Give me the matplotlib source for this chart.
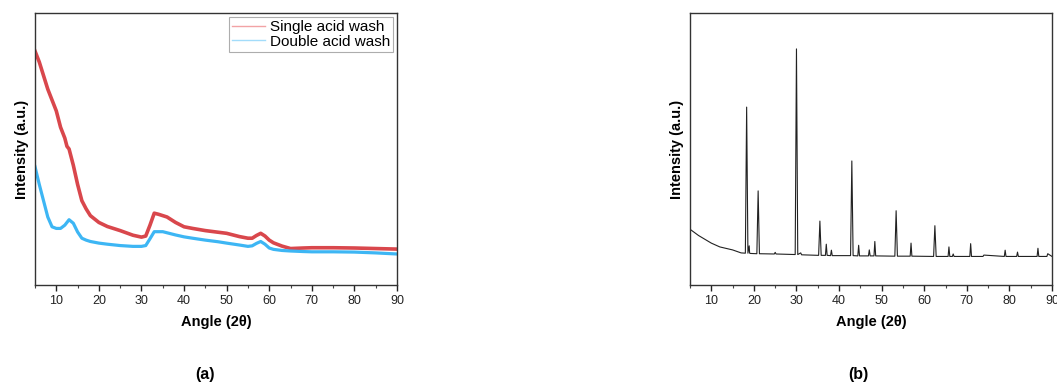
import matplotlib
matplotlib.use("Agg")
import matplotlib.pyplot as plt
from matplotlib.lines import Line2D
from matplotlib.ticker import MultipleLocator

# ---------------- data (a) ----------------
angle_a = [5, 6, 7, 8, 9, 10, 11, 12, 12.5, 13, 14, 15, 16, 17, 18, 20, 22, 25, 28, 30, 31,
           32, 33, 34, 35, 36, 38, 40, 42, 45, 48, 50, 53, 55, 56, 57, 58, 59, 60, 61, 63,
           65, 68, 70, 75, 80, 85, 90]
single_wash = [86, 82, 77, 72, 68, 64, 58, 54, 51, 50, 44, 37, 31, 28, 25.5, 23, 21.5, 20, 18.3, 17.6, 18,
               22, 26.4, 26, 25.5, 25, 23, 21.4, 20.8, 20, 19.4, 19, 17.8, 17.2, 17.2, 18.2, 19, 18, 16.5, 15.5, 14.3,
               13.4, 13.6, 13.7, 13.7, 13.6, 13.4, 13.2]
double_wash = [43.5, 37, 31, 25, 21.4, 20.8, 20.8, 22, 23, 24, 22.7, 19.5, 17.2, 16.5, 16, 15.4, 15, 14.5, 14.2, 14.2, 14.5,
               17, 19.6, 19.6, 19.6, 19.2, 18.4, 17.7, 17.2, 16.5, 15.9, 15.4, 14.7, 14.2, 14.4, 15.3, 16, 15, 13.6, 13.1, 12.7,
               12.5, 12.3, 12.2, 12.2, 12.1, 11.8, 11.4]

# ---------------- data (b) ----------------
angle_b = [5, 7, 10, 12, 15, 17, 18.0, 18.3, 18.6, 18.9, 19.0, 19.2, 20.7, 21.0, 21.3, 24.8, 25.0, 25.2,
           29.7, 30.0, 30.3, 31.0, 31.2, 35.2, 35.5, 35.8, 36.8, 37.0, 37.2, 38.0, 38.2, 38.4,
           42.7, 43.0, 43.3, 44.4, 44.6, 44.8, 46.9, 47.1, 47.3, 48.2, 48.4, 48.6,
           53.1, 53.4, 53.7, 56.7, 56.9, 57.1, 62.2, 62.5, 62.8, 65.6, 65.8, 66.0, 66.6, 66.8, 67.0,
           70.7, 70.9, 71.1, 73.8, 74.0, 78.8, 79.0, 79.2, 81.7, 81.9, 82.1, 86.5, 86.7, 86.9, 88.8, 89.0, 90]
pattern_b = [20.5, 18.2, 15.4, 14.0, 12.9, 11.8, 11.7, 65.4, 11.7, 14.4, 11.7, 11.6, 11.5, 34.6, 11.5, 11.4, 12.0, 11.4,
             11.2, 86.8, 11.2, 11.8, 11.1, 10.9, 23.5, 10.9, 10.9, 15.0, 10.9, 10.8, 12.8, 10.8,
             10.8, 45.6, 10.8, 10.7, 14.6, 10.7, 10.7, 12.9, 10.7, 10.7, 16.0, 10.7,
             10.6, 27.3, 10.6, 10.6, 15.4, 10.6, 10.5, 21.8, 10.5, 10.5, 14.0, 10.5, 10.5, 11.4, 10.5,
             10.5, 15.2, 10.5, 10.5, 11.0, 10.5, 12.8, 10.5, 10.5, 12.1, 10.5, 10.5, 13.5, 10.5, 10.5, 11.5, 10.5]

x_ticks = [10, 20, 30, 40, 50, 60, 70, 80, 90]
legend_labels = ["Single acid wash", "Double acid wash"]
panel_labels = ["(a)", "(b)"]

font = ['Liberation Sans', 'DejaVu Sans']

fig = plt.figure(figsize=(10.57, 3.83), dpi=100)
ax1 = fig.add_axes([35 / 1057, 1 - 285 / 383, 362 / 1057, 272 / 383])
ax2 = fig.add_axes([690 / 1057, 1 - 285 / 383, 362 / 1057, 272 / 383])

ax1.plot(angle_a, single_wash, color='#d9474c', lw=2.6, solid_joinstyle='round')
ax1.plot(angle_a, double_wash, color='#3db6f4', lw=2.3, solid_joinstyle='round')
handles = [Line2D([0], [0], color='#f2a3a5', lw=1.0), Line2D([0], [0], color='#a3dcfa', lw=1.0)]
leg = ax1.legend(handles, legend_labels, loc='upper right', frameon=True, fancybox=False,
                 handlelength=2.2, handletextpad=0.3, borderpad=0.2, labelspacing=0.05,
                 borderaxespad=0.25, prop={'family': font, 'size': 11})
leg.get_frame().set_edgecolor('#999999')
leg.get_frame().set_linewidth(0.8)

ax2.plot(angle_b, pattern_b, color='#222222', lw=0.8)

for ax, lab in zip([ax1, ax2], panel_labels):
    ax.set_xlim(5, 90)
    ax.set_ylim(0, 100)
    ax.set_yticks([])
    ax.set_xticks(x_ticks)
    ax.xaxis.set_minor_locator(MultipleLocator(5))
    ax.tick_params(axis='x', which='major', direction='out', length=4, width=1, pad=3, labelsize=9,
                   colors='#222222')
    ax.tick_params(axis='x', which='minor', direction='out', length=2.5, width=0.8, colors='#444444')
    for t in ax.get_xticklabels():
        t.set_family(font)
    for s in ax.spines.values():
        s.set_color('#333333')
        s.set_linewidth(1.0)
    ax.set_xlabel('Angle (2θ)', fontsize=10.5, fontweight='bold', family=font, labelpad=6)
    ax.set_ylabel('Intensity (a.u.)', fontsize=10.5, fontweight='bold', family=font, labelpad=4)

fig.text(205 / 1057, 1 - 375 / 383, panel_labels[0], ha='center', va='center', fontsize=11.5,
         fontweight='bold', family=font)
fig.text(858 / 1057, 1 - 375 / 383, panel_labels[1], ha='center', va='center', fontsize=11.5,
         fontweight='bold', family=font)

fig.savefig('out.png', dpi=100)
